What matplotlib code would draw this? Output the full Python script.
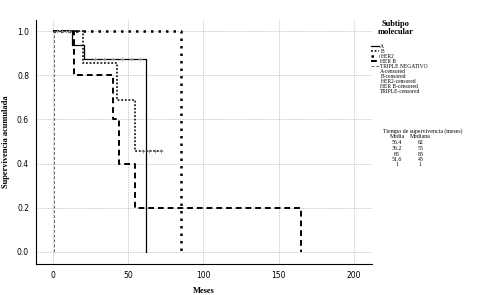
import matplotlib
matplotlib.use("Agg")
import matplotlib.pyplot as plt
from matplotlib.lines import Line2D

# Curvas de Kaplan-Meier por subtipo molecular
a_t = [0, 13, 21, 62]
a_s = [1.0, 0.9375, 0.875, 0.0]
b_t = [0, 20, 43, 55, 73]
b_s = [1.0, 0.857, 0.686, 0.457, 0.457]
her2_t = [0, 85]
her2_s = [1.0, 0.0]
herb_t = [0, 14, 40, 44, 55, 165]
herb_s = [1.0, 0.8, 0.6, 0.4, 0.2, 0.0]
tn_t = [0, 1]
tn_s = [1.0, 0.0]

# Censurados
a_cens_t = [3, 6, 9, 11, 28, 34, 40, 46, 52, 58]
a_cens_s = [1.0, 1.0, 1.0, 1.0, 0.875, 0.875, 0.875, 0.875, 0.875, 0.875]
b_cens_t = [60, 64, 68, 72]
b_cens_s = [0.457, 0.457, 0.457, 0.457]

grupos = ['A', 'B', 'HER2', 'HER B', 'TRIPLE NEGATIVO']
censurados = ['A-censored', 'B-censored', 'HER2-censored', 'HER B-censored', 'TRIPLE-censored']

medias = ['56.4', '36.2', '85', '51.6', '1']
medianas = ['62', '55', '85', '45', '1']

fig = plt.figure(figsize=(4.94, 2.95), dpi=100)
ax = fig.add_axes([0.073, 0.105, 0.68, 0.827])

estilos = [
    dict(color='black', lw=0.9, ls='-'),
    dict(color='#222222', lw=1.3, ls=(0, (1, 1))),
    dict(color='black', lw=1.8, ls=(0, (1, 2))),
    dict(color='black', lw=1.4, ls=(0, (3, 2))),
    dict(color='#666666', lw=0.7, ls=(0, (3, 2))),
]

datos = [(a_t, a_s), (b_t, b_s), (her2_t, her2_s), (herb_t, herb_s), (tn_t, tn_s)]
for (t, s), est in zip(datos, estilos):
    ax.step(t, s, where='post', **est)

ax.plot(a_cens_t, a_cens_s, '+', color='#999999', ms=2.5, mew=0.5)
ax.plot(b_cens_t, b_cens_s, '+', color='#777777', ms=2.5, mew=0.5)

ax.set_xlim(-11, 212)
ax.set_ylim(-0.055, 1.05)
ax.set_xticks([0, 50, 100, 150, 200])
ax.set_yticks([0.0, 0.2, 0.4, 0.6, 0.8, 1.0])
ax.set_yticklabels(['0.0', '0.2', '0.4', '0.6', '0.8', '1.0'])
ax.tick_params(labelsize=5.5, length=0, pad=5)
ax.grid(True, color='#bbbbbb', ls=(0, (1, 1)), lw=0.6)
ax.set_axisbelow(True)
for lado in ['top', 'right']:
    ax.spines[lado].set_visible(False)
for lado in ['left', 'bottom']:
    ax.spines[lado].set_linewidth(0.8)

ax.set_xlabel('Meses', fontsize=6, family='Liberation Serif', fontweight='bold', labelpad=5)
ax.set_ylabel('Supervivencia acumulada', fontsize=6, family='Liberation Serif',
              fontweight='bold', labelpad=5)

fig.text(0.80, 1 - 28 / 295, 'Subtipo\nmolecular', ha='center', va='center', fontsize=6,
         family='Liberation Serif', fontweight='bold', linespacing=1.0)

handles = [Line2D([0], [0], **est) for est in estilos]
handles += [Line2D([0], [0], color='none') for _ in censurados]
leg = fig.legend(handles, grupos + censurados, loc='upper left',
                 bbox_to_anchor=(0.743, 1 - 40 / 295), frameon=False,
                 prop={'family': 'Liberation Serif', 'size': 4.0},
                 handlelength=1.5, handletextpad=0.2, labelspacing=0.0,
                 borderpad=0.2)

# Tabla de medias y medianas
fig.text(0.856, 1 - 131 / 295, 'Tiempo de supervivencia (meses)', ha='center', va='center',
         fontsize=4.2, family='Liberation Serif')
fig.text(0.804, 1 - 137 / 295, 'Media', ha='center', va='center', fontsize=4.2,
         family='Liberation Serif')
fig.text(0.851, 1 - 137 / 295, 'Mediana', ha='center', va='center', fontsize=4.2,
         family='Liberation Serif')
for i, (m, md) in enumerate(zip(medias, medianas)):
    y = 1 - (143 + i * 5.5) / 295
    fig.text(0.804, y, m, ha='center', va='center', fontsize=4.2, family='Liberation Serif')
    fig.text(0.851, y, md, ha='center', va='center', fontsize=4.2, family='Liberation Serif')

fig.savefig('out.png', dpi=100)
